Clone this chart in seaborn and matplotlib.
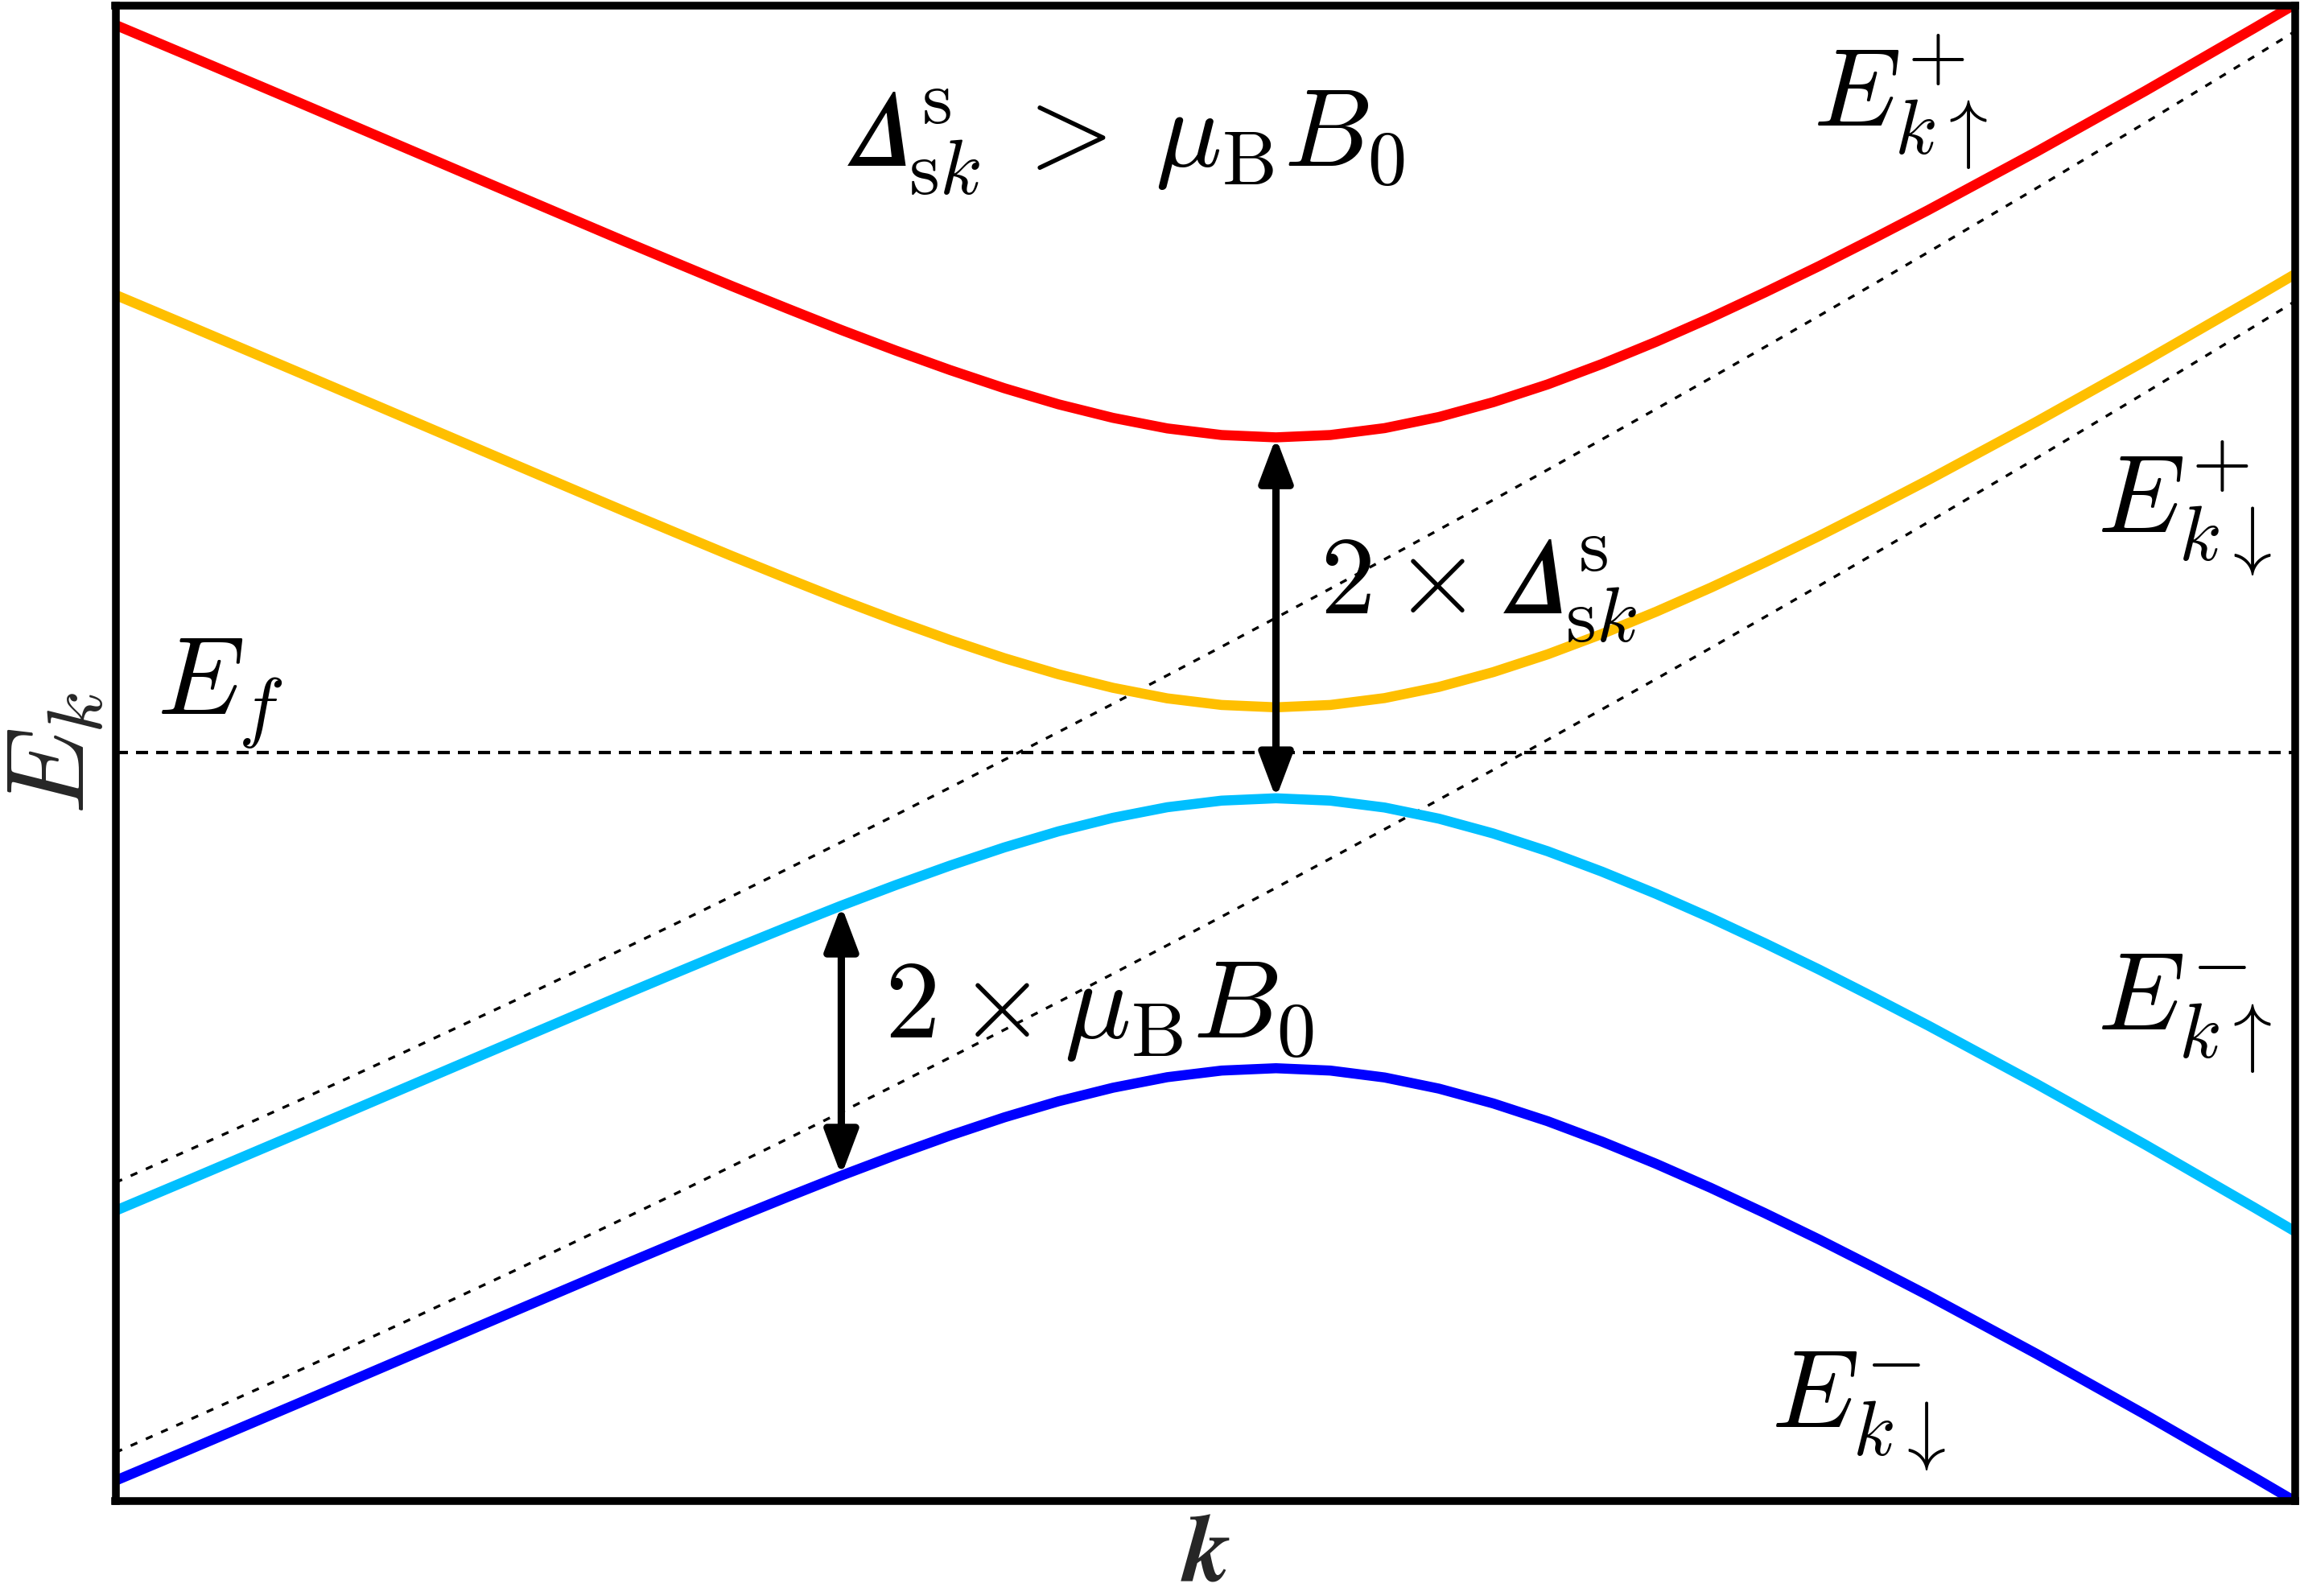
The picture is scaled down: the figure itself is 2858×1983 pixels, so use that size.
import matplotlib
matplotlib.use("Agg")
import matplotlib.pyplot as plt
import pandas as pd
import seaborn as sns

# wave vector (arbitrary units, gap minimum at k = 0)
k = [-5.34, -5.0, -4.5, -4.0, -3.5, -3.0, -2.75, -2.5, -2.25, -2.0, -1.75, -1.5,
     -1.25, -1.0, -0.75, -0.5, -0.25, 0.0, 0.25, 0.5, 0.75, 1.0, 1.25, 1.5, 1.75,
     2.0, 2.25, 2.5, 2.75, 3.0, 3.5, 4.0, 4.5, 4.69]

# E_k up, plus branch (red)
e_up_plus = [4.961, 4.749, 4.435, 4.119, 3.803, 3.488, 3.333, 3.179, 3.029, 2.882,
             2.742, 2.609, 2.485, 2.375, 2.283, 2.211, 2.166, 2.150, 2.166, 2.213,
             2.289, 2.390, 2.511, 2.650, 2.802, 2.965, 3.138, 3.318, 3.506, 3.698,
             4.097, 4.511, 4.938, 5.103]
# E_k down, plus branch (orange)
e_down_plus = [3.121, 2.909, 2.595, 2.279, 1.963, 1.648, 1.493, 1.339, 1.189, 1.042,
               0.902, 0.769, 0.645, 0.535, 0.443, 0.371, 0.326, 0.310, 0.326, 0.373,
               0.449, 0.550, 0.671, 0.810, 0.962, 1.125, 1.298, 1.478, 1.666, 1.858,
               2.257, 2.671, 3.098, 3.263]
# E_k up, minus branch (light blue)
e_up_minus = [-3.121, -2.909, -2.595, -2.279, -1.963, -1.648, -1.493, -1.339, -1.189,
              -1.042, -0.902, -0.769, -0.645, -0.535, -0.443, -0.371, -0.326, -0.310,
              -0.326, -0.373, -0.449, -0.550, -0.671, -0.810, -0.962, -1.125, -1.298,
              -1.478, -1.666, -1.858, -2.257, -2.671, -3.098, -3.263]
# E_k down, minus branch (blue)
e_down_minus = [-4.961, -4.749, -4.435, -4.119, -3.803, -3.488, -3.333, -3.179, -3.029,
                -2.882, -2.742, -2.609, -2.485, -2.375, -2.283, -2.211, -2.166, -2.150,
                -2.166, -2.213, -2.289, -2.390, -2.511, -2.650, -2.802, -2.965, -3.138,
                -3.318, -3.506, -3.698, -4.097, -4.511, -4.938, -5.103]
# bare bands (thin dashed)
xi_up = [-2.929, -2.706, -2.373, -2.033, -1.687, -1.334, -1.156, -0.975, -0.793, -0.609,
         -0.424, -0.237, -0.048, 0.142, 0.334, 0.528, 0.723, 0.920, 1.119, 1.319, 1.521,
         1.724, 1.929, 2.136, 2.344, 2.554, 2.766, 2.979, 3.194, 3.411, 3.849, 4.294,
         4.745, 4.918]
xi_down = [-4.769, -4.546, -4.213, -3.873, -3.527, -3.174, -2.996, -2.815, -2.633, -2.449,
           -2.264, -2.077, -1.888, -1.698, -1.506, -1.312, -1.117, -0.920, -0.721, -0.521,
           -0.319, -0.116, 0.089, 0.296, 0.504, 0.714, 0.926, 1.139, 1.354, 1.571, 2.009,
           2.454, 2.905, 3.078]

df = pd.DataFrame({
    "k": k,
    "up_plus": e_up_plus,
    "down_plus": e_down_plus,
    "up_minus": e_up_minus,
    "down_minus": e_down_minus,
    "xi_up": xi_up,
    "xi_down": xi_down,
})

sns.set_theme(style="white")
plt.rcParams["mathtext.fontset"] = "cm"
plt.rcParams["font.family"] = ["DejaVu Serif"]

W, H = 2858, 1983
fig = plt.figure(figsize=(W / 300, H / 300), dpi=300)
ax = fig.add_axes([143.5 / W, 118 / H, 2708.5 / W, 1857.5 / H])

dash_thin = (0, (2.7, 3.5))
for col in ["xi_up", "xi_down"]:
    sns.lineplot(data=df, x="k", y=col, color="black", lw=0.8, linestyle=dash_thin,
                 estimator=None, sort=False, ax=ax, zorder=1.5)

colors = {"up_plus": "#FF0000", "down_plus": "#FFBF00",
          "up_minus": "#00BFFF", "down_minus": "#0000FF"}
for col, c in colors.items():
    sns.lineplot(data=df, x="k", y=col, color=c, lw=3.0,
                 estimator=None, sort=False, ax=ax, zorder=2)

ax.axhline(0, color="black", lw=1.0, linestyle=(0, (3.6, 2.4)), zorder=1.5)

# arrows between the branches, taken from the data
i0 = k.index(0.0)
i2 = k.index(-2.0)
astyle = "<|-|>,head_length=0.45,head_width=0.17"
for top, bottom, i in [(e_up_plus, e_up_minus, i0), (e_up_minus, e_down_minus, i2)]:
    ax.annotate("", xy=(k[i], bottom[i]), xytext=(k[i], top[i]),
                arrowprops=dict(arrowstyle=astyle, mutation_scale=25, lw=2.2,
                                color="black", shrinkA=0, shrinkB=0))

fs = 33
tkw = dict(fontsize=fs, ha="left", va="baseline", color="black")
ax.text(-1.99, 4.0, r"$𝛥^{\mathrm{s}}_{\mathrm{s}k}\:>\:\mu_{\mathrm{B}}B_0$", **tkw)
ax.text(2.47, 4.27, r"$E^{+}_{k\uparrow}$", **tkw)
ax.text(3.78, 1.50, r"$E^{+}_{k\downarrow}$", **tkw)
ax.text(3.78, -1.89, r"$E^{-}_{k\uparrow}$", **tkw)
ax.text(2.28, -4.60, r"$E^{-}_{k\downarrow}$", **tkw)
ax.text(-5.15, 0.26, r"$E_f$", **tkw)
ax.text(0.20, 0.95, r"$2\times 𝛥^{\mathrm{s}}_{\mathrm{s}k}$", **tkw)
ax.text(-1.80, -1.94, r"$2\times\mu_{\mathrm{B}}B_0$", **tkw)

ax.set_xlim(-5.34, 4.69)
ax.set_ylim(-5.10, 5.09)
ax.set_xticks([])
ax.set_yticks([])

ax.set_ylabel(r"$E_k$", fontsize=fs)
ax.yaxis.set_label_coords(-0.004, 0.5)
ax.set_xlabel(r"$\boldsymbol{k}$", fontsize=28.5, math_fontfamily="stix")
ax.xaxis.set_label_coords(0.5, -0.0038)

for s in ax.spines.values():
    s.set_color("black")
    s.set_linewidth(2.3)

fig.savefig("out.png", dpi=300)
